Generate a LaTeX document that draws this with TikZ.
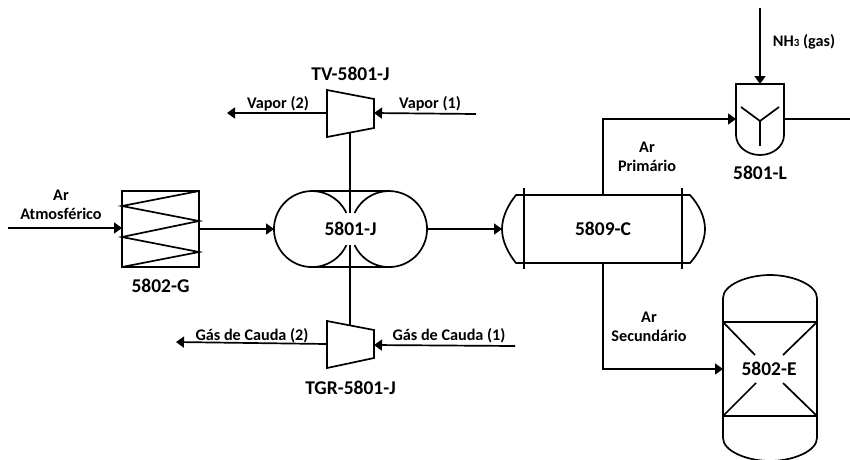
\documentclass[tikz,border=0pt]{standalone}
\usepackage{fontspec}
\setmainfont{Carlito}
\usetikzlibrary{arrows.meta}
\tikzset{
  eq/.style={line width=1.7pt,black,line join=miter},
  flow/.style={line width=1.7pt,black,-{Triangle[length=8pt,width=11pt]},shorten >=0pt},
  pipe/.style={line width=1.7pt,black},
  lab/.style={font=\bfseries\fontsize{16.2}{18}\selectfont,inner sep=0pt,align=center},
  tag/.style={font=\bfseries\fontsize{19.5}{22}\selectfont,inner sep=0pt,align=center},
}
\begin{document}
\begin{tikzpicture}[x=1pt,y=-1pt]
\useasboundingbox (0,0) rectangle (850,459);
% named connection points
\coordinate (inAir) at (8,228);
\coordinate (gL) at (122,228);
\coordinate (gR) at (199,229);
\coordinate (jL) at (274,229);
\coordinate (jR) at (427,229);
\coordinate (jT) at (350,213);
\coordinate (jB) at (350,245);
\coordinate (cL) at (502,229);
\coordinate (cTo) at (603,195);
\coordinate (cBo) at (603,263);
\coordinate (tvT) at (350,133);
\coordinate (tvL) at (327,113);
\coordinate (tvR) at (374,113);
\coordinate (v2) at (227,113);
\coordinate (v1) at (476,114);
\coordinate (tgB) at (350,325);
\coordinate (tgL) at (327,344);
\coordinate (tgR) at (374,345);
\coordinate (g2) at (176,342);
\coordinate (g1) at (515,346);
\coordinate (lL) at (736,119);
\coordinate (lR) at (784,119);
\coordinate (lOut) at (850,119);
\coordinate (lT) at (760,84);
\coordinate (nh3) at (760,8);
\coordinate (eL) at (723,369);
% 5802-G
\draw[eq] (122,191) rectangle (199,267);
\draw[eq] (199,191) -- (122,206) -- (199,221) -- (122,237) -- (199,252) -- (122,267);
% 5801-J
\draw[eq] (312,191) -- (389,191);
\draw[eq] (312,267) -- (389,267);
\draw[eq] (346.4,213) arc[start angle=-25,end angle=-335,radius=38];
\draw[eq] (354.6,213) arc[start angle=205,end angle=515,radius=38];
% TV-5801-J
\draw[eq] (327,90) -- (374,99) -- (374,128) -- (327,137) -- cycle;
% TGR-5801-J
\draw[eq] (327,321) -- (374,330) -- (374,358) -- (327,368) -- cycle;
% 5809-C
\draw[eq] (516,195) -- (690,195) .. controls (699,205) and (705,217) .. (705,229) .. controls (705,241) and (699,253) .. (690,263) -- (516,263) .. controls (508,253) and (502,241) .. (502,229) .. controls (502,217) and (508,205) .. (516,195) -- cycle;
\draw[eq] (524,188) -- (524,269);
\draw[eq] (682,188) -- (682,269);
% 5801-L
\draw[eq] (736,135) -- (736,84) -- (784,84) -- (784,135) arc[start angle=0,end angle=180,x radius=24,y radius=20];
\draw[eq] (741,107) -- (760,121) -- (779,107);
\draw[eq] (760,121) -- (760,146);
% connectors
\draw[flow] (inAir) -- (gL);
\draw[flow] (gR) -- (jL);
\draw[flow] (jR) -- (cL);
\draw[pipe] (tvT) -- (jT);
\draw[pipe] (jB) -- (tgB);
\draw[flow] (tvL) -- (v2);
\draw[flow] (v1) -- (tvR);
\draw[flow] (tgL) -- (g2);
\draw[flow] (g1) -- (tgR);
\draw[flow] (cTo) |- (lL);
\draw[flow] (nh3) -- (lT);
\draw[pipe] (lR) -- (lOut);
\draw[flow] (cBo) |- (eL);
% labels
\node[lab] (t1) at (61,204.5) {Ar\\[1pt]Atmosférico};
\node[tag] (t2) at (160.5,286) {5802-G};
\node[tag] (t3) at (350.5,229) {5801-J};
\node[tag] (t4) at (350.5,74) {TV-5801-J};
\node[tag] (t5) at (350.5,388) {TGR-5801-J};
\node[tag] (t6) at (603,229) {5809-C};
\node[tag] (t7) at (760,173) {5801-L};
\node[lab] (t8) at (278,104) {Vapor (2)};
\node[lab] (t9) at (430,104) {Vapor (1)};
\node[lab] (t10) at (252,336) {Gás de Cauda (2)};
\node[lab] (t11) at (449,336) {Gás de Cauda (1)};
\node[lab] (t12) at (647,156.5) {Ar\\[1pt]Primário};
\node[lab] (t13) at (649,327) {Ar\\[1pt]Secundário};
\node[lab] (t14) at (804,42) {NH{\fontsize{11}{12}\selectfont 3} (gas)};
% 5802-E
\draw[eq] (723,298) .. controls (723,285) and (747,275) .. (770,275) .. controls (793,275) and (817,285) .. (817,298) -- (817,438) .. controls (817,451) and (793,461) .. (770,461) .. controls (747,461) and (723,451) .. (723,438) -- cycle;
\draw[eq] (723,322) -- (817,322);
\draw[eq] (723,416) -- (817,416);
\draw[eq] (723,322) -- (755,355);
\draw[eq] (817,322) -- (783,355);
\draw[eq] (723,416) -- (756,383);
\draw[eq] (817,416) -- (783,383);
\node[tag] (t15) at (769,369) {5802-E};
\end{tikzpicture}
\end{document}
